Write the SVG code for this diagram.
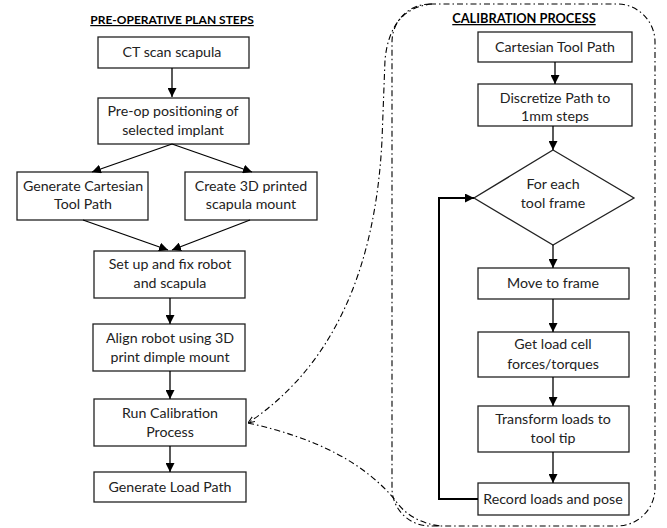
<svg xmlns="http://www.w3.org/2000/svg" width="667" height="528" viewBox="0 0 667 528">
<defs>
<marker id="ah" viewBox="0 0 10 10" refX="10" refY="5" markerWidth="9" markerHeight="9" markerUnits="userSpaceOnUse" orient="auto">
<path d="M0,0 L10,5 L0,10 z" fill="#000"/>
</marker>
<marker id="oh" viewBox="0 0 10 10" refX="10" refY="5" markerWidth="7" markerHeight="7" markerUnits="userSpaceOnUse" orient="auto">
<path d="M0,1 L10,5 L0,9" fill="none" stroke="#000" stroke-width="1.5"/>
</marker>
</defs>
<style>
.box{fill:#fff;stroke:#222;stroke-width:1.3}
.t{font-family:Lato,"Liberation Sans",sans-serif;font-size:14.2px;fill:#222;text-anchor:middle}
.h{font-family:Lato,"Liberation Sans",sans-serif;font-size:12px;font-weight:bold;fill:#000;text-anchor:middle;text-decoration:underline}
.c{fill:none;stroke:#000;stroke-width:1.3}
.dd{fill:none;stroke:#000;stroke-width:1.1;stroke-dasharray:6 3 1.5 3}
</style>
<rect id="calib-region" x="392" y="4" width="263" height="522" rx="38" ry="38" class="dd"/>
<text class="h" x="172" y="24">PRE-OPERATIVE PLAN STEPS</text>
<text class="h" x="524" y="23" style="font-size:12.8px">CALIBRATION PROCESS</text>
<g id="ct"><rect class="box" x="98" y="37" width="151" height="31"/><text class="t" x="172" y="57">CT scan scapula</text></g>
<g id="preop"><rect class="box" x="98" y="98" width="151" height="46"/><text class="t" x="173" y="116">Pre-op positioning of</text><text class="t" x="173" y="135">selected implant</text></g>
<g id="gen-cart"><rect class="box" x="17" y="172" width="131" height="48"/><text class="t" x="83" y="191">Generate Cartesian</text><text class="t" x="83" y="209">Tool Path</text></g>
<g id="create3d"><rect class="box" x="185" y="172" width="132" height="48"/><text class="t" x="251" y="191">Create 3D printed</text><text class="t" x="251" y="209">scapula mount</text></g>
<g id="setup"><rect class="box" x="94" y="251" width="151" height="47"/><text class="t" x="170" y="269">Set up and fix robot</text><text class="t" x="170" y="288">and scapula</text></g>
<g id="align"><rect class="box" x="93" y="324" width="152" height="47"/><text class="t" x="170" y="343">Align robot using 3D</text><text class="t" x="170" y="362">print dimple mount</text></g>
<g id="runcal"><rect class="box" x="94" y="399" width="152" height="47"/><text class="t" x="170" y="418">Run Calibration</text><text class="t" x="170" y="437">Process</text></g>
<g id="genload"><rect class="box" x="94" y="472" width="152" height="30"/><text class="t" x="170" y="492">Generate Load Path</text></g>
<g id="carttp"><rect class="box" x="478" y="32" width="154" height="30"/><text class="t" x="555" y="52">Cartesian Tool Path</text></g>
<g id="discretize"><rect class="box" x="478" y="84" width="154" height="42"/><text class="t" x="555" y="103">Discretize Path to</text><text class="t" x="555" y="121">1mm steps</text></g>
<g id="foreach"><polygon class="box" points="553,150 634,198 553,245 474,198"/><text class="t" x="553" y="189">For each</text><text class="t" x="553" y="208">tool frame</text></g>
<g id="move"><rect class="box" x="478" y="268" width="151" height="31"/><text class="t" x="553" y="288">Move to frame</text></g>
<g id="getload"><rect class="box" x="478" y="332" width="151" height="45"/><text class="t" x="553" y="349">Get load cell</text><text class="t" x="553" y="369">forces/torques</text></g>
<g id="transform"><rect class="box" x="478" y="406" width="151" height="46"/><text class="t" x="553" y="424">Transform loads to</text><text class="t" x="553" y="443">tool tip</text></g>
<g id="record"><rect class="box" x="478" y="483" width="151" height="32"/><text class="t" x="553" y="504">Record loads and pose</text></g>
<g id="connectors">
<path class="c" d="M172,68 V97" marker-end="url(#ah)"/>
<path class="c" d="M172,144 L92,172" marker-end="url(#ah)"/>
<path class="c" d="M172,144 L252,172" marker-end="url(#ah)"/>
<path class="c" d="M83,220 L168,250" marker-end="url(#ah)"/>
<path class="c" d="M250,220 L172,250" marker-end="url(#ah)"/>
<path class="c" d="M170,298 V324" marker-end="url(#ah)"/>
<path class="c" d="M170,371 V399" marker-end="url(#ah)"/>
<path class="c" d="M170,446 V472" marker-end="url(#ah)"/>
<path class="c" d="M555,62 V84" marker-end="url(#ah)"/>
<path class="c" d="M553,126 V150" marker-end="url(#ah)"/>
<path class="c" d="M553,245 V268" marker-end="url(#ah)"/>
<path class="c" d="M553,299 V332" marker-end="url(#ah)"/>
<path class="c" d="M553,377 V406" marker-end="url(#ah)"/>
<path class="c" d="M553,452 V483" marker-end="url(#ah)"/>
<path fill="none" stroke="#000" stroke-width="2" d="M478,499 H439 V198 H474" marker-end="url(#ah)"/>
<path class="dd" d="M432,4 Q390,8 385,60 L382,140 Q372,340 248,423" marker-end="url(#oh)"/>
<path class="dd" d="M248,423 Q350,445 395,500 Q410,522 440,526"/>
</g>
</svg>
